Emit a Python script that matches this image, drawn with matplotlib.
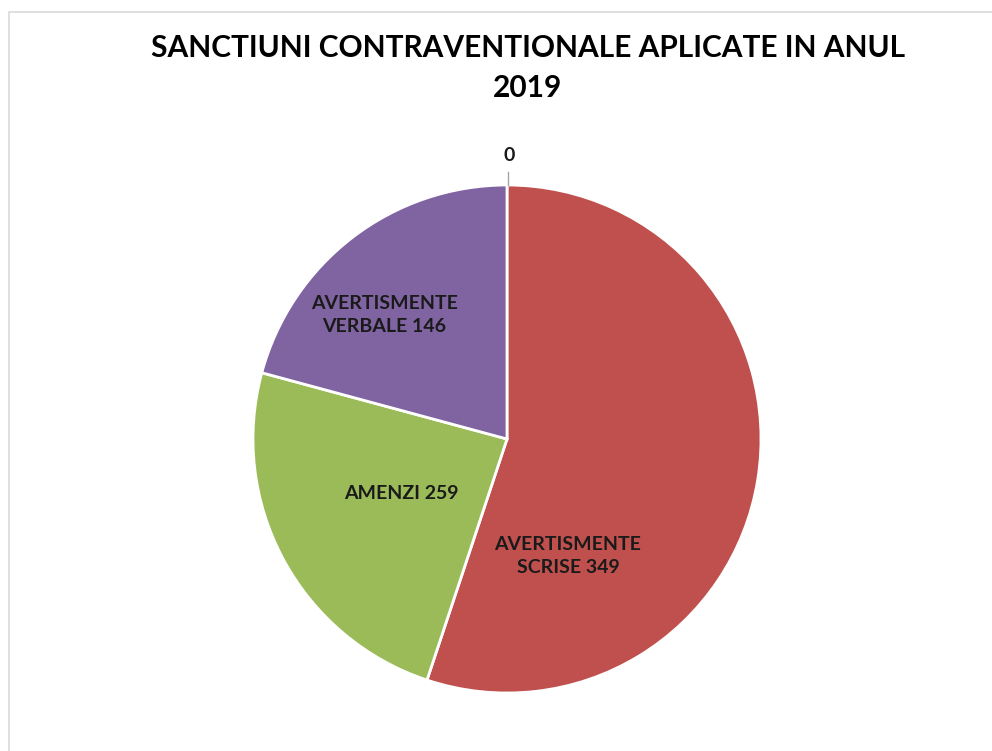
import matplotlib.pyplot as plt
from matplotlib.lines import Line2D
from matplotlib.patches import Rectangle

# slice shares (the printed counts do not match them)
categories = ['', 'AVERTISMENTE\nSCRISE', 'AMENZI', 'AVERTISMENTE\nVERBALE']
shares = [0.0, 55.1, 24.1, 20.8]
counts = [0, 349, 259, 146]
colors = ['#4F81BD', '#C0504D', '#9BBB59', '#8064A2']
title = 'SANCTIUNI CONTRAVENTIONALE APLICATE IN ANUL\n2019'

plt.rcParams['font.family'] = ['Lato', 'DejaVu Sans']

W, H = 992, 751
fig = plt.figure(figsize=(W / 100, H / 100), dpi=100)

# chart frame (only top and left edges fall inside the picture)
fig.patches.append(Rectangle((9 / W, -0.1), 1.2, (H - 12) / H + 0.1,
                             transform=fig.transFigure, fill=False,
                             edgecolor='#d9d9d9', linewidth=1.2))

cx, cy, r = 507, 439, 254
ax = fig.add_axes([(cx - r) / W, (H - cy - r) / H, 2 * r / W, 2 * r / H])
wedges, _ = ax.pie(shares, colors=colors, startangle=90, counterclock=False,
                   wedgeprops=dict(edgecolor='white', linewidth=2))
ax.set_xlim(-1, 1)
ax.set_ylim(-1, 1)
ax.axis('off')

# data labels (positions as placed in the original)
label_pos = [(0.008, 1.115), (0.24, -0.46), (-0.417, -0.213), (-0.484, 0.488)]
for name, n, (x, y) in zip(categories, counts, label_pos):
    txt = f'{name} {n}' if name else f'{n}'
    ax.text(x, y, txt, ha='center', va='center', fontsize=14,
            fontweight='bold', color='#1a1a1a', linespacing=1.45,
            clip_on=False)

# leader line of the zero slice
ax.add_line(Line2D([0.003, 0.003], [1.0, 1.05], color='#a6a6a6',
                   linewidth=1, clip_on=False))

fig.text(528 / W, 1 - 68 / H, title, ha='center', va='center',
         fontsize=21.5, fontweight='bold', color='black', linespacing=1.5)

fig.savefig('out.png', dpi=100)
